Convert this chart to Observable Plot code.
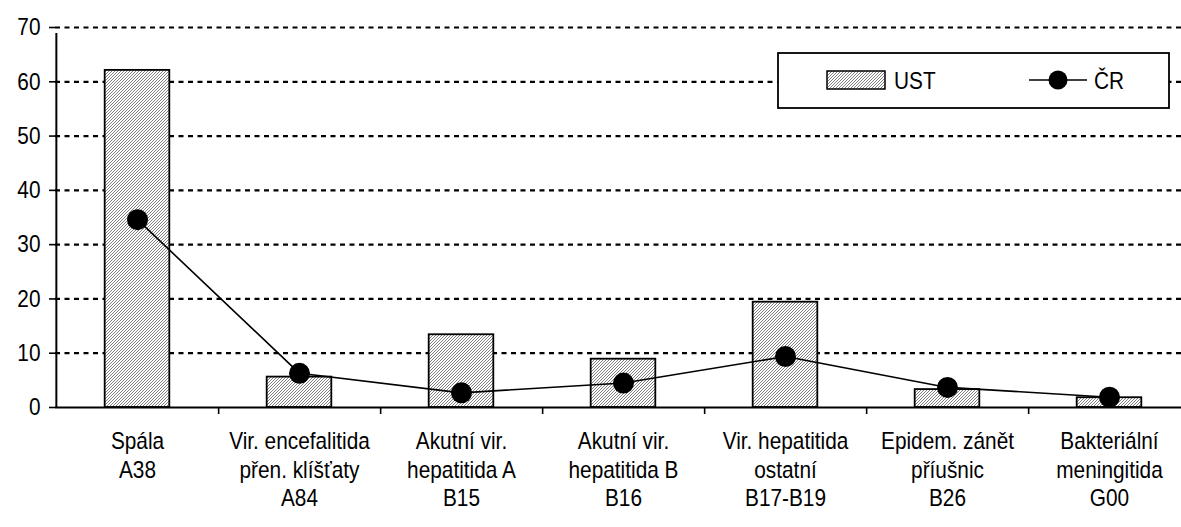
<!DOCTYPE html>
<html>
<head>
<meta charset="utf-8">
<script src="https://cdn.jsdelivr.net/npm/d3@7"></script>
<script src="https://cdn.jsdelivr.net/npm/@observablehq/plot@0.6"></script>
<style>
  html, body { margin: 0; padding: 0; background: #fff; overflow: hidden; }
  #chart svg { max-width: none !important; }
</style>
</head>
<body>
<div id="chart"></div>
<script>
const categories = ["A38", "A84", "B15", "B16", "B17-B19", "B26", "G00"];
const labels = [
  "Spála\nA38",
  "Vir. encefalitida\npřen. klíšťaty\nA84",
  "Akutní vir.\nhepatitida A\nB15",
  "Akutní vir.\nhepatitida B\nB16",
  "Vir. hepatitida\nostatní\nB17-B19",
  "Epidem. zánět\npříušnic\nB26",
  "Bakteriální\nmeningitida\nG00"
];
const ust = [62.1, 5.6, 13.4, 8.9, 19.4, 3.3, 1.8];
const cr = [34.6, 6.3, 2.7, 4.5, 9.4, 3.7, 1.9];
const yTicks = [0, 10, 20, 30, 40, 50, 60, 70];
const seriesNames = ["UST", "ČR"];

const data = categories.map((c, i) => ({cat: c, label: labels[i], ust: ust[i], cr: cr[i]}));
const labelOf = new Map(categories.map((c, i) => [c, labels[i]]));

const FONT = "'Liberation Sans', Arial, sans-serif";
const FS = 24.5;        // font size
const SX = 0.85;        // horizontal squeeze to imitate a narrow face

const width = 1200, height = 527;
const marginLeft = 55, marginRight = 9, marginTop = 27, marginBottom = 120;
const band = (width - marginLeft - marginRight) / categories.length;
const barInset = band * 0.3;

const plot = Plot.plot({
  width, height, marginLeft, marginRight, marginTop, marginBottom,
  style: {fontFamily: FONT, fontSize: FS + "px", color: "#000", background: "#fff", maxWidth: "none"},
  x: {domain: categories, padding: 0, axis: null, label: null},
  y: {domain: [0, 70], axis: null, label: null},
  marks: [
    Plot.gridY(yTicks.filter(d => d > 0), {stroke: "#000", strokeOpacity: 1, strokeWidth: 2.2, strokeDasharray: "5,4.5"}),
    Plot.barY(data, {x: "cat", y: "ust", fill: "url(#hatch)", stroke: "#000", strokeWidth: 1.8, insetLeft: barInset, insetRight: barInset}),
    Plot.ruleY([0], {stroke: "#000", strokeWidth: 2}),
    Plot.ruleX([categories[0]], {dx: -band / 2, y1: 0, y2: 70, stroke: "#000", strokeWidth: 2, insetBottom: -6}),
    Plot.axisY({ticks: yTicks, tickSize: 6, tickPadding: 9, fontSize: FS, strokeWidth: 1.6, label: null}),
    Plot.axisX({ticks: categories, tickSize: 7, dx: band / 2, text: null, strokeWidth: 1.6, label: null}),
    Plot.axisX({ticks: categories, tickSize: 0, tickPadding: 21, fontSize: FS, lineHeight: 1.17, tickFormat: d => labelOf.get(d), textAnchor: "middle", label: null}),
    Plot.line(data, {x: "cat", y: "cr", stroke: "#000", strokeWidth: 1.6}),
    Plot.dot(data, {x: "cat", y: "cr", r: 10.5, fill: "#000", stroke: "none"})
  ]
});
plot.style.maxWidth = "none";

const svg = d3.select(plot);
const defs = svg.insert("defs", ":first-child");
const pat = defs.append("pattern").attr("id", "hatch").attr("patternUnits", "userSpaceOnUse")
  .attr("width", 3).attr("height", 3);
pat.append("rect").attr("width", 3).attr("height", 3).attr("fill", "#fff");
pat.append("path").attr("d", "M-1,1 L1,-1 M0,3 L3,0 M2,4 L4,2").attr("stroke", "#555").attr("stroke-width", 0.75);

// squeeze every text horizontally around its anchor point
svg.selectAll("text").each(function() {
  const t = this.getAttribute("transform");
  if (t) this.setAttribute("transform", t + ` scale(${SX},1)`);
});

// legend inside plot area
const lg = svg.append("g").attr("font-family", FONT).attr("font-size", FS).attr("fill", "#000").attr("text-anchor", "start");
lg.append("rect").attr("x", 778).attr("y", 53).attr("width", 391).attr("height", 55).attr("fill", "#fff").attr("stroke", "#000").attr("stroke-width", 1.8);
lg.append("rect").attr("x", 827).attr("y", 71).attr("width", 58).attr("height", 18).attr("fill", "url(#hatch)").attr("stroke", "#000").attr("stroke-width", 1.5);
lg.append("text").attr("text-anchor", "start").attr("transform", `translate(894,89) scale(${SX},1)`).text(seriesNames[0]);
lg.append("line").attr("x1", 1029).attr("x2", 1087).attr("y1", 80).attr("y2", 80).attr("stroke", "#000").attr("stroke-width", 1.6);
lg.append("circle").attr("cx", 1058).attr("cy", 80).attr("r", 9.5).attr("fill", "#000");
lg.append("text").attr("text-anchor", "start").attr("transform", `translate(1094,89) scale(${SX},1)`).text(seriesNames[1]);

document.getElementById("chart").appendChild(plot);
</script>
</body>
</html>
